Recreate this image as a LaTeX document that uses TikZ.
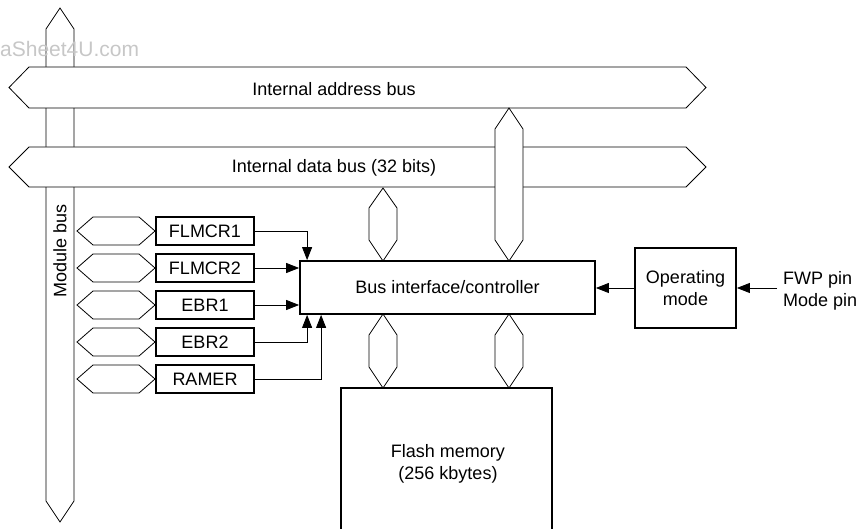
\documentclass[tikz,border=0pt]{standalone}
\usepackage{fontspec}
\setmainfont{Liberation Sans}
\usetikzlibrary{arrows.meta}
\begin{document}
\begin{tikzpicture}[x=1pt,y=-1pt,
  bus/.style={draw, fill=white, line width=0.8pt, line join=miter},
  reg/.style={draw, fill=white, line width=1.8pt, minimum width=98pt, minimum height=28pt, inner sep=0pt},
  blk/.style={draw, fill=white, line width=1.8pt, inner sep=0pt, align=center},
  arr/.style={line width=0.8pt, -{Triangle[length=13pt,width=10pt]}},
  lbl/.style={inner sep=0pt, align=center},
  font=\fontsize{18}{22}\selectfont]
\clip (0,0) rectangle (862,529);
% module bus
\draw[bus] (60,8) -- (74,29) -- (74,501) -- (60,522) -- (46,501) -- (46,29) -- cycle;
\node[lbl, rotate=90] (modbus) at (60,251) {Module bus};
% horizontal buses
\draw[bus] (9,87.5) -- (29,67) -- (686,67) -- (706,87.5) -- (686,108) -- (29,108) -- cycle;
\node[lbl] (addr) at (334,89) {Internal address bus};
\draw[bus] (9,167) -- (29,147) -- (686,147) -- (706,167) -- (686,187) -- (29,187) -- cycle;
\node[lbl] (data) at (334,168) {Internal data bus (32 bits)};
% vertical buses to controller
\draw[bus] (509,108) -- (523,129) -- (523,240) -- (509,261) -- (495,240) -- (495,129) -- cycle;
\draw[bus] (383,188) -- (397,208) -- (397,240) -- (383,261) -- (369,240) -- (369,208) -- cycle;
\draw[bus] (383,314) -- (397,335) -- (397,367) -- (383,388) -- (369,367) -- (369,335) -- cycle;
\draw[bus] (509,314) -- (523,335) -- (523,367) -- (509,388) -- (495,367) -- (495,335) -- cycle;
% register hex connectors
\foreach \yy in {231,268,305,342,379}{
  \draw[bus] (77,\yy) -- (93,\yy-14) -- (139,\yy-14) -- (155,\yy) -- (139,\yy+14) -- (93,\yy+14) -- cycle;
}
% registers
\node[reg] (flmcr1) at (205,231) {FLMCR1};
\node[reg] (flmcr2) at (205,268) {FLMCR2};
\node[reg] (ebr1) at (205,305) {EBR1};
\node[reg] (ebr2) at (205,342) {EBR2};
\node[reg] (ramer) at (205,379) {RAMER};
% controller
\node[blk, minimum width=295pt, minimum height=53pt] (ctrl) at (447.5,287.5) {Bus interface/controller};
% operating mode
\node[blk, minimum width=101pt, minimum height=80pt] (opm) at (685.5,288) {Operating\\mode};
% flash memory
\node[blk, minimum width=211pt, minimum height=160pt] (flash) at (446.5,468) {};
\node[lbl] (flashtxt) at (448,464) {Flash memory\\ (256 kbytes)};
% pins
\node[lbl, anchor=west, align=left] (pins) at (783,291) {FWP pin\\Mode pin};
\coordinate (pinin) at (777,288);
% arrows
\draw[arr] (flmcr1.east) -| ([xshift=8pt]ctrl.north west);
\draw[arr] (flmcr2.east) -- (flmcr2.east -| ctrl.west);
\draw[arr] (ebr1.east) -- (ebr1.east -| ctrl.west);
\draw[arr] (ebr2.east) -| ([xshift=8pt]ctrl.south west);
\draw[arr] (ramer.east) -| ([xshift=22pt]ctrl.south west);
\draw[arr] (opm.west) -- (opm.west -| ctrl.east);
\draw[arr] (pinin) -- (opm.east);
% watermark
\node[anchor=base west, inner sep=0pt, text=black!22, font=\fontsize{21}{24}\selectfont] (wm) at (0,57) {aSheet4U.com};
\end{tikzpicture}
\end{document}
